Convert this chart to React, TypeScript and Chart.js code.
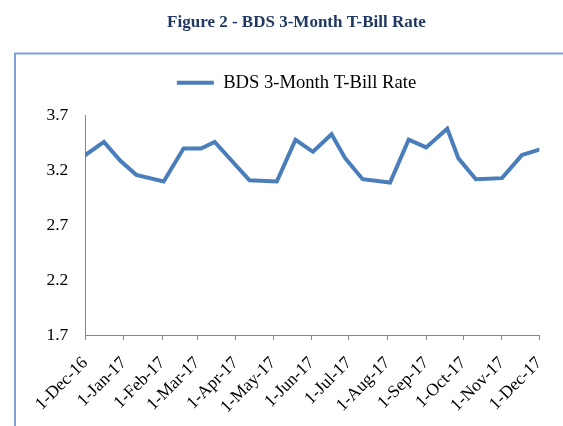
import React, { useEffect, useRef } from "react";
import { Chart, registerables } from "chart.js";

Chart.register(...registerables);

const FIGURE_TITLE = "Figure 2 - BDS 3-Month T-Bill Rate";
const SERIES_NAME = "BDS 3-Month T-Bill Rate";

const auctionDates = [
  "2016-12-01", "2016-12-16", "2016-12-29", "2017-01-11", "2017-02-02", "2017-02-18",
  "2017-03-04", "2017-03-15", "2017-04-12", "2017-05-04", "2017-05-19", "2017-06-02",
  "2017-06-17", "2017-06-28", "2017-07-12", "2017-08-03", "2017-08-18", "2017-09-01",
  "2017-09-18", "2017-09-27", "2017-10-11", "2017-11-01", "2017-11-17", "2017-12-01",
];
const rates = [
  3.34, 3.46, 3.29, 3.16, 3.10, 3.40,
  3.40, 3.46, 3.11, 3.10, 3.48, 3.37,
  3.53, 3.31, 3.12, 3.09, 3.48, 3.41,
  3.58, 3.31, 3.12, 3.13, 3.34, 3.39,
];

const xTickDates = [
  "2016-12-01", "2017-01-01", "2017-02-01", "2017-03-01", "2017-04-01", "2017-05-01",
  "2017-06-01", "2017-07-01", "2017-08-01", "2017-09-01", "2017-10-01", "2017-11-01",
  "2017-12-01",
];
const xTickLabels = [
  "1-Dec-16", "1-Jan-17", "1-Feb-17", "1-Mar-17", "1-Apr-17", "1-May-17",
  "1-Jun-17", "1-Jul-17", "1-Aug-17", "1-Sep-17", "1-Oct-17", "1-Nov-17",
  "1-Dec-17",
];
const yTicks = [1.7, 2.2, 2.7, 3.2, 3.7];

const START = Date.parse(xTickDates[0] + "T00:00:00Z");
const toDay = (d: string) => (Date.parse(d + "T00:00:00Z") - START) / 86400000;

const SERIF = "'Liberation Serif', 'Times New Roman', serif";
const LINE_BLUE = "#4a7ebb";

const frameBox = {
  id: "frameBox",
  beforeDraw(chart: any) {
    const ctx = chart.ctx;
    ctx.save();
    ctx.strokeStyle = "#7ba1d6";
    ctx.lineWidth = 2;
    ctx.beginPath();
    ctx.moveTo(15, chart.height);
    ctx.lineTo(15, 53.5);
    ctx.lineTo(chart.width, 53.5);
    ctx.stroke();
    ctx.restore();
  },
};

export default function App() {
  const ref = useRef<HTMLCanvasElement>(null);

  useEffect(() => {
    const canvas = ref.current;
    if (!canvas) return;
    const data = auctionDates.map((d, i) => ({ x: toDay(d), y: rates[i] }));
    const chart = new Chart(canvas, {
      type: "line",
      data: {
        datasets: [
          {
            label: SERIES_NAME,
            data,
            borderColor: LINE_BLUE,
            backgroundColor: LINE_BLUE,
            borderWidth: 4,
            borderCapStyle: "round",
            borderJoinStyle: "miter",
            pointRadius: 0,
            pointStyle: "line",
            tension: 0,
            fill: false,
          },
        ],
      },
      options: {
        responsive: false,
        animation: false,
        layout: { padding: { left: 30, right: 0, top: 0, bottom: 0 } },
        plugins: {
          title: {
            display: true,
            text: FIGURE_TITLE,
            color: "#1f3864",
            font: { family: SERIF, size: 17, weight: "bold" },
            padding: { top: 12.5, bottom: 30.5 },
          },
          subtitle: {
            display: true,
            text: " ",
            position: "top",
            weight: 500,
            font: { family: SERIF, size: 10, lineHeight: 1 },
            padding: { top: 3.6, bottom: 0 },
          },
          legend: {
            display: true,
            position: "top",
            labels: {
              color: "#000",
              font: { family: SERIF, size: 18.6 },
              usePointStyle: true,
              pointStyleWidth: 37,
              padding: 10,
            },
          },
          tooltip: { enabled: false },
        },
        scales: {
          x: {
            type: "linear",
            min: toDay(xTickDates[0]),
            max: toDay(xTickDates[xTickDates.length - 1]),
            afterBuildTicks: (scale: any) => {
              scale.ticks = xTickDates.map((d) => ({ value: toDay(d) }));
            },
            afterFit: (scale: any) => {
              scale.height = 91;
              scale.paddingRight = 23.7;
            },
            grid: {
              display: true,
              drawOnChartArea: false,
              drawTicks: true,
              tickLength: 5,
              color: "#868686",
            },
            border: { display: true, color: "#868686", width: 1 },
            ticks: {
              autoSkip: false,
              minRotation: 45,
              maxRotation: 45,
              padding: 13,
              color: "#000",
              font: { family: SERIF, size: 17.5 },
              callback: (_v: any, i: number) => xTickLabels[i],
            },
          },
          y: {
            min: yTicks[0],
            max: yTicks[yTicks.length - 1],
            afterBuildTicks: (scale: any) => {
              scale.ticks = yTicks.map((v) => ({ value: v }));
            },
            afterFit: (scale: any) => {
              scale.width = 55.3;
            },
            grid: { display: false, drawTicks: false },
            border: { display: true, color: "#868686", width: 1 },
            ticks: {
              padding: 17,
              color: "#000",
              font: { family: SERIF, size: 17.5 },
              callback: (v: any) => Number(v).toFixed(1),
            },
          },
        },
      },
      plugins: [frameBox],
    } as any);
    return () => chart.destroy();
  }, []);

  return (
    <div style={{ position: "fixed", left: 0, top: 0, width: 563, height: 426, background: "#fff" }}>
      <canvas ref={ref} width={563} height={426} style={{ width: 563, height: 426, display: "block" }} />
    </div>
  );
}
